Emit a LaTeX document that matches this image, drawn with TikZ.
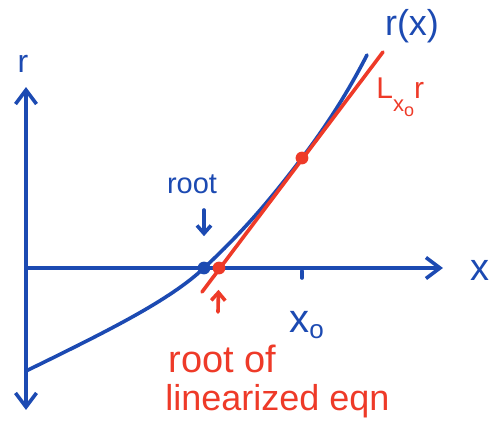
\documentclass[tikz,border=0pt]{standalone}
\usepackage{fontspec}
\setmainfont{Liberation Sans}
\usetikzlibrary{arrows.meta}
\definecolor{blueink}{RGB}{28,74,178}
\definecolor{redink}{RGB}{238,58,40}

\begin{document}
\begin{tikzpicture}[x=0.5pt, y=-0.5pt,
            ink/.style={line width=1.8pt, line cap=round},
            barb/.style={-{Straight Barb[length=7pt, width=10.5pt]}},
            smallbarb/.style={-{Straight Barb[length=4pt, width=7pt]}},
            dot/.style={circle, fill, inner sep=0pt, minimum size=6.4pt},
            lbl/.style={inner sep=0pt, anchor=base}]
            \useasboundingbox (0,0) rectangle (495,434);
            \coordinate (O) at (26,268);
            \coordinate (ytop) at (26,87);
            \coordinate (ybot) at (26,410);
            \coordinate (xend) at (443,268);
            \coordinate (cstart) at (26,371);
            \coordinate (cend) at (367,55);
            \coordinate (lstart) at (202,292);
            \coordinate (lend) at (383,52);
            \coordinate (rootarr) at (204,210);
            \coordinate (lrootarr) at (218,312);
            \draw[blueink, ink, {Straight Barb[length=7pt, width=10.5pt]}-{Straight Barb[length=7pt, width=10.5pt]}] (ybot) -- (ytop);
            \draw[blueink, ink, barb] (O) -- (xend);
            \draw[blueink, ink] (302,271) -- (302,278);
            \draw[blueink, ink] (cstart) .. controls (110,330) and (170,300) .. (204,268)
                .. controls (250,225) and (275,193) .. (302,158)
                .. controls (330,121) and (350,88) .. (cend);
            \draw[redink, ink] (lstart) -- (lend);
            \node[dot, blueink] (root) at (204,268) {};
            \node[dot, redink] (lroot) at (219,268) {};
            \node[dot, redink] (x0pt) at (302,158) {};
            \draw[blueink, ink, smallbarb, shorten >=12.5pt] (rootarr) -- (root);
            \draw[redink, ink, smallbarb, shorten >=7.5pt] (lrootarr) -- (lroot);
            \node[lbl, blueink, font=\fontsize{16}{18}\selectfont] (rlbl) at (23,72) {r};
            \node[lbl, blueink, font=\fontsize{19}{22}\selectfont] (xlbl) at (480,280) {x};
            \node[lbl, blueink, font=\fontsize{18}{21}\selectfont] (rxlbl) at (412,35) {r(x)};
            \node[lbl, anchor=base west, redink, font=\fontsize{15}{18}\selectfont] (Llbl) at (376,98)
                {L\raisebox{-6.5pt}{\fontsize{11}{12}\selectfont x\raisebox{-2.5pt}{\fontsize{9}{10}\selectfont o}}r};
            \node[lbl, blueink, font=\fontsize{14.5}{17}\selectfont] (rootlbl) at (192,193) {root};
            \node[lbl, anchor=base west, blueink, font=\fontsize{20}{22}\selectfont] (x0lbl) at (289,333)
                {x\raisebox{-2.5pt}{\fontsize{13}{14}\selectfont o}};
            \node[lbl, anchor=base west, redink, font=\fontsize{19}{22}\selectfont] (rootof) at (168,372) {root of};
            \node[lbl, anchor=base west, redink, font=\fontsize{18}{22}\selectfont] (lineqn) at (165,410) {linearized eqn};
        \end{tikzpicture}
\end{document}
